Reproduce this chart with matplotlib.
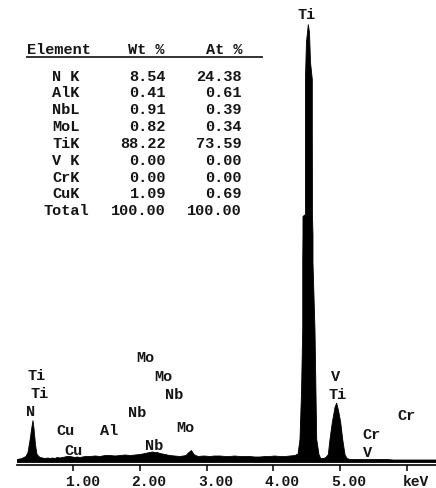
import numpy as np
import matplotlib
matplotlib.use("Agg")
import matplotlib.pyplot as plt
from matplotlib.transforms import ScaledTranslation

# ---- data -------------------------------------------------------------
elements = ["N K", "AlK", "NbL", "MoL", "TiK", "V K", "CrK", "CuK", "Total"]
wt_pct = ["8.54", "0.41", "0.91", "0.82", "88.22", "0.00", "0.00", "1.09", "100.00"]
at_pct = ["24.38", "0.61", "0.39", "0.34", "73.59", "0.00", "0.00", "0.69", "100.00"]

# spectrum outline (energy keV, counts)
energy = [0.156, 0.20, 0.231, 0.26, 0.291, 0.321, 0.351, 0.381, 0.396, 0.411, 0.433,
          0.456, 0.501, 0.54, 0.576, 0.62, 0.651, 0.69, 0.726, 0.76, 0.801, 0.84,
          0.876, 0.91, 0.951, 0.99, 1.026, 1.06, 1.101, 1.18, 1.251, 1.33, 1.401,
          1.48, 1.551, 1.63, 1.702, 1.78, 1.852, 1.93, 2.002, 2.04, 2.077, 2.11,
          2.151, 2.19, 2.226, 2.26, 2.301, 2.34, 2.375, 2.41, 2.45, 2.52, 2.60,
          2.65, 2.69, 2.735, 2.773, 2.81, 2.87, 2.96, 3.05, 3.12, 3.20, 3.28, 3.35,
          3.42, 3.50, 3.58, 3.65, 3.72, 3.80, 3.88, 3.95, 4.02, 4.10, 4.18, 4.25,
          4.33, 4.351, 4.370, 4.400, 4.423, 4.441, 4.441, 4.445, 4.445, 4.482,
          4.482, 4.497, 4.525, 4.543, 4.558, 4.585, 4.585, 4.588, 4.595, 4.595,
          4.625, 4.651, 4.685, 4.711, 4.722, 4.76, 4.790, 4.825, 4.850, 4.885,
          4.925, 4.950, 4.978, 5.011, 5.041, 5.075, 5.105, 5.15, 5.22, 5.30, 5.40,
          5.50, 5.60, 5.70, 5.80, 5.90, 6.00, 6.10, 6.20, 6.30, 6.44]
counts = [3, 3.5, 4, 5, 6, 10, 22, 36, 42, 34, 18,
          8, 5, 4.5, 4, 4.5, 4, 4.5, 4, 5, 4.5, 5,
          5.5, 6, 6, 5.5, 5, 5.5, 5, 6, 6, 6.5, 6,
          7, 7, 6.5, 7, 7.5, 7, 7.5, 8, 8.5, 9, 9.5,
          10, 10.5, 10, 10, 9, 8.5, 8, 7.5, 7, 6.5, 6,
          6.5, 7, 10, 12, 8, 6, 6.5, 6, 6.5, 6.5, 6, 6,
          6.5, 6, 6, 6, 5.5, 5.5, 6, 6, 6.5, 6, 6, 6.5,
          7, 8, 8, 23, 70, 133, 200, 228, 246, 248,
          383, 420, 438, 430, 400, 383, 331, 246, 228, 200,
          133, 23, 8, 4, 4, 4, 5, 8, 23, 40,
          55, 59.5, 52, 40, 23, 8, 4, 3, 3, 3, 3,
          3, 3, 3, 2.5, 2.5, 2.5, 2.5, 2.5, 2.5, 2.5]

tick_vals = [1, 2, 3, 4, 5, 6]
tick_labels = ["1.00", "2.00", "3.00", "4.00", "5.00", "keV"]

peak_labels = [("Ti", 4.505, 448.5), ("Ti", 0.456, 87.5), ("Ti", 0.501, 69.5),
               ("N", 0.366, 51.5), ("Cu", 0.876, 32.5), ("Cu", 0.996, 12.5),
               ("Al", 1.536, 32.5), ("Mo", 2.076, 105.5), ("Mo", 2.346, 86.5),
               ("Nb", 2.511, 68.5), ("Nb", 1.956, 50.5), ("Mo", 2.676, 35.5),
               ("Nb", 2.211, 17.5), ("V", 4.940, 86.5), ("Ti", 4.970, 68.5),
               ("Cr", 5.48, 28.5), ("V", 5.42, 10.5), ("Cr", 6.005, 47.5)]

# ---- figure -----------------------------------------------------------
W, H = 436, 489
fig = plt.figure(figsize=(W / 100, H / 100), dpi=100)
fig.patch.set_facecolor("white")
font = dict(family="Liberation Mono", weight="bold")
txtc = "#151515"

ax = fig.add_axes([17 / W, (H - 466) / H, (W - 17) / W, 466 / H])
ax.set_xlim(0.156, 6.44)
ax.set_ylim(-2.5, 463.5)
ax.fill(list(energy) + [energy[-1], energy[0]], list(counts) + [0, 0],
        color="black", lw=0.6)

for s in ["top", "right", "left"]:
    ax.spines[s].set_visible(False)
ax.spines["bottom"].set_linewidth(1.2)
ax.set_yticks([])
ax.set_xticks(tick_vals)
ax.set_xticklabels(tick_labels, fontsize=10.5, color=txtc, **font)
ax.tick_params(axis="x", direction="out", length=4.3, width=1.1, pad=2)
for lab in ax.get_xticklabels():
    lab.set_transform(lab.get_transform() + ScaledTranslation(9 / 100, 0, fig.dpi_scale_trans))

for t, e, c in peak_labels:
    ax.text(e, c, t, ha="center", va="center", fontsize=11, color=txtc, **font)

# ---- table --------------------------------------------------------------
def fx(px):
    return px / W

def fy(py):
    return 1 - py / H

fig.text(fx(27), fy(50), "Element", ha="left", va="center", fontsize=11, color=txtc, **font)
fig.text(fx(164), fy(50), "Wt %", ha="right", va="center", fontsize=11, color=txtc, **font)
fig.text(fx(242), fy(50), "At %", ha="right", va="center", fontsize=11, color=txtc, **font)
fig.add_artist(plt.Line2D([fx(27), fx(262)], [fy(57.5), fy(57.5)], color="#333333", lw=1.4))

for i, (el, w, a) in enumerate(zip(elements, wt_pct, at_pct)):
    y = 76.7 + i * 16.8
    x0 = 43 if el == "Total" else 52
    fig.text(fx(x0), fy(y), el, ha="left", va="center", fontsize=11, color=txtc, **font)
    fig.text(fx(166), fy(y), w, ha="right", va="center", fontsize=11, color=txtc, **font)
    fig.text(fx(242), fy(y), a, ha="right", va="center", fontsize=11, color=txtc, **font)

fig.savefig("out.png", dpi=100)
